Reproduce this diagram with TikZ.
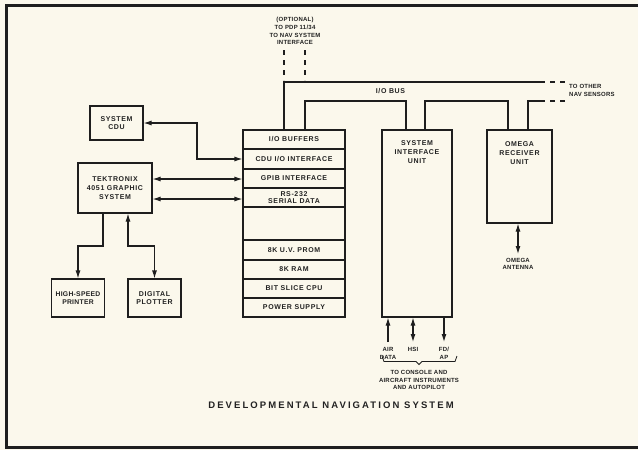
\documentclass[tikz,border=0pt]{standalone}
\usepackage{fontspec}
\setmainfont{Liberation Sans}
\newfontfamily\labfont[LetterSpace=9]{Liberation Sans}
\newfontfamily\smallfont[LetterSpace=4]{Liberation Sans}
\newfontfamily\titlefont[LetterSpace=22]{Liberation Sans}
\usetikzlibrary{arrows.meta}
\definecolor{paper}{HTML}{FBF8EC}
\definecolor{ink}{HTML}{1E1E1E}
\definecolor{txt}{HTML}{222222}
\tikzset{
  lab/.style={font=\labfont\fontsize{7}{8.7}\selectfont\bfseries, text=txt, align=center, inner sep=0pt},
  small/.style={font=\smallfont\fontsize{6}{7.8}\selectfont\bfseries, text=txt, align=center, inner sep=0pt},
  box/.style={draw=ink, line width=1.1pt, inner sep=0pt, lab},
  wire/.style={draw=ink, line width=1.1pt},
  tip/.style={-{Latex[length=8pt,width=5pt]}},
  tipb/.style={{Latex[length=8pt,width=5pt]}-{Latex[length=8pt,width=5pt]}},
  dsh/.style={wire, dash pattern=on 5pt off 5pt},
}
\begin{document}
\begin{tikzpicture}[x=1pt,y=-1pt]
\fill[paper] (0,0) rectangle (638,450);
\useasboundingbox (0,0) rectangle (638,450);
% frame
\draw[ink, line width=3pt] (638,5) -- (6,5) -- (6,447) -- (638,447);

% left boxes
\node[box, minimum width=53pt, minimum height=34pt] (cdu) at (116.5,123) {SYSTEM\\CDU};
\node[box, minimum width=74pt, minimum height=50pt] (tek) at (115,188) {TEKTRONIX\\4051 GRAPHIC\\SYSTEM};
\node[box, minimum width=53pt, minimum height=38pt, font=\smallfont\fontsize{6.8}{8.7}\selectfont\bfseries] (prn) at (78,298) {HIGH-SPEED\\PRINTER};
\node[box, minimum width=53pt, minimum height=38pt] (plt) at (154.5,298) {DIGITAL\\PLOTTER};

% stack
\node[box, minimum width=102pt, minimum height=19pt] (buf) at (294,139.5) {I/O BUFFERS};
\node[box, minimum width=102pt, minimum height=20pt] (cduif) at (294,159) {CDU I/O INTERFACE};
\node[box, minimum width=102pt, minimum height=19pt] (gpib) at (294,178.5) {GPIB INTERFACE};
\node[box, minimum width=102pt, minimum height=19pt, font=\labfont\fontsize{7}{7.2}\selectfont\bfseries] (rs) at (294,197.5) {RS-232\\SERIAL DATA};
\node[box, minimum width=102pt, minimum height=33pt] (empty) at (294,223.5) {};
\node[box, minimum width=102pt, minimum height=20pt] (prom) at (294,250) {8K U.V. PROM};
\node[box, minimum width=102pt, minimum height=19pt] (ram) at (294,269.5) {8K RAM};
\node[box, minimum width=102pt, minimum height=19pt] (cpu) at (294,288.5) {BIT SLICE CPU};
\node[box, minimum width=102pt, minimum height=19pt] (pwr) at (294,307.5) {POWER SUPPLY};

% right boxes
\node[box, minimum width=70pt, minimum height=187pt] (siu) at (417,223.5) {};
\node[lab] (siut) at (417,152) {SYSTEM\\INTERFACE\\UNIT};
\node[box, minimum width=65pt, minimum height=93pt] (omega) at (519.5,176.5) {};
\node[lab] (omegat) at (519.5,153) {OMEGA\\RECEIVER\\UNIT};

% left connectors
\draw[wire, tipb] (cdu.east |- 0,123) -- (197,123) -- (197,159) -- (cduif.west);
\draw[wire, tipb] (tek.east |- 0,179) -- (gpib.west |- 0,179);
\draw[wire, tipb] (tek.east |- 0,199) -- (rs.west |- 0,199);
\draw[wire, tip] (tek.south -| 103,0) -- (103,246) -- (78,246) -- (prn.north);
\draw[wire, tipb] (tek.south -| 128,0) -- (128,246) -- (154.5,246) -- (plt.north);

% buses
\coordinate (b1) at (540,82);
\coordinate (b1e) at (568,82);
\coordinate (b2) at (540,101);
\coordinate (b2e) at (568,101);
\draw[wire] (buf.north -| 284,0) -- (284,82) -- (b1);
\draw[dsh] (b1) -- (b1e);
\draw[wire] (buf.north -| 305,0) -- (305,101) -- (406,101) -- (siu.north -| 406,0);
\draw[wire] (siu.north -| 425,0) -- (425,101) -- (508,101) -- (omega.north -| 508,0);
\draw[wire] (omega.north -| 528,0) -- (528,101) -- (b2);
\draw[dsh] (b2) -- (b2e);
\coordinate (o1) at (284,50);
\coordinate (o2) at (305,50);
\draw[dsh] (o1) -- (284,80);
\draw[dsh] (o2) -- (305,80);

\node[small] (opt) at (295,31) {(OPTIONAL)\\TO PDP 11/34\\TO NAV SYSTEM\\INTERFACE};
\node[lab] (iobus) at (390.5,91) {I/O BUS};
\node[small, anchor=west, align=left] (other) at (569,90.5) {TO OTHER\\NAV SENSORS};

% omega antenna
\coordinate (ant) at (518,254);
\draw[wire, tipb] (omega.south -| 518,0) -- (ant);
\node[small] (antt) at (518,264) {OMEGA\\ANTENNA};

% SIU bottom
\coordinate (a1) at (388,342);
\coordinate (a2) at (413,342);
\coordinate (a3) at (444,342);
\draw[wire, tip] (a1) -- (siu.south -| a1);
\draw[wire, tipb] (a2) -- (siu.south -| a2);
\draw[wire, tip] (siu.south -| a3) -- (a3);
\node[small] (airt) at (388,353.5) {AIR\\DATA};
\node[small] (hsit) at (413,349.5) {HSI};
\node[small] (fdt) at (444,353.5) {FD/\\AP};
\draw[wire, line width=0.8pt] (382,356) -- (384,361.5) -- (416,361.5) -- (419,364.5) -- (422,361.5) -- (455,361.5) -- (457,356);
\node[small] (cons) at (419,380) {TO CONSOLE AND\\AIRCRAFT INSTRUMENTS\\AND AUTOPILOT};

% title
\node[font=\titlefont\fontsize{9.5}{11}\selectfont\bfseries, text=txt, inner sep=0pt] (title) at (331,405) {DEVELOPMENTAL NAVIGATION SYSTEM};
\end{tikzpicture}
\end{document}
